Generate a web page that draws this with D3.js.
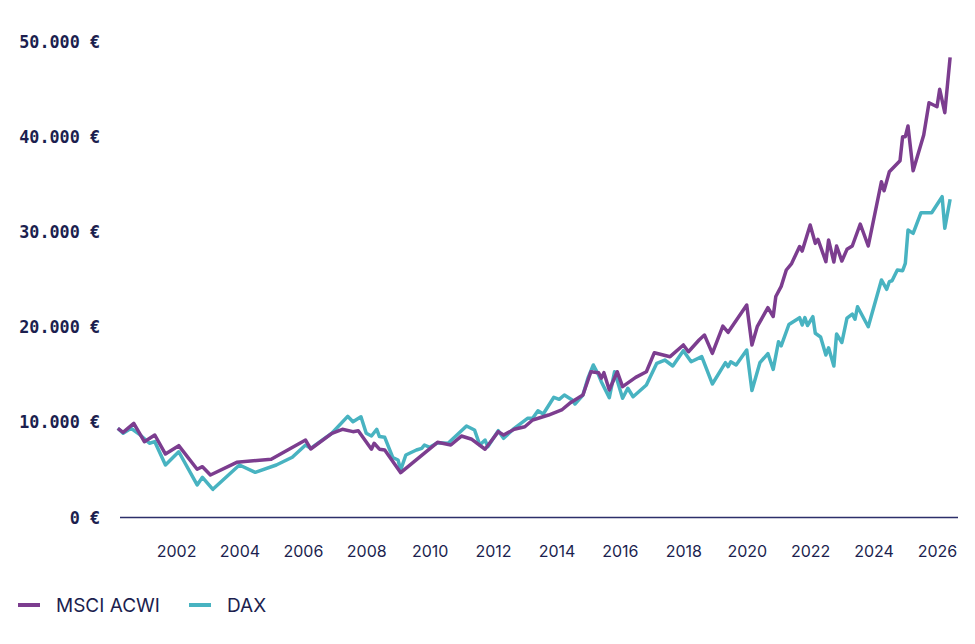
<!DOCTYPE html>
<html lang="de">
<head>
    <meta charset="UTF-8">
    <title>MSCI ACWI vs DAX</title>
    <style>
        body { margin: 0; background: #fff; }
    </style>
</head>
<body>
<script src="https://cdn.jsdelivr.net/npm/d3@7/dist/d3.min.js"></script>
<script>

    // MSCI ACWI (purple)
    var msciDates = ["2000-03","2000-05","2000-09","2001-01","2001-05","2001-09","2002-02","2002-09","2002-11","2003-02",
        "2003-12","2005-01","2006-02","2006-04","2006-12","2007-04","2007-08","2007-10","2008-03","2008-04",
        "2008-06","2008-08","2009-02","2010-04","2010-09","2011-01","2011-05","2011-10","2012-03","2012-05",
        "2012-09","2013-01","2013-04","2013-10","2014-03","2014-06","2014-11","2015-02","2015-05","2015-06",
        "2015-07","2015-09","2015-12","2016-02","2016-07","2016-11","2017-02","2017-08","2018-01","2018-03",
        "2018-07","2018-09","2018-12","2019-04","2019-06","2020-01","2020-03","2020-05","2020-09","2020-11",
        "2020-12","2021-02","2021-04","2021-06","2021-09","2021-10","2022-01","2022-03","2022-04","2022-07",
        "2022-08","2022-10","2022-11","2023-01","2023-03","2023-05","2023-08","2023-11","2024-04","2024-05",
        "2024-07","2024-11","2024-12","2025-01","2025-02","2025-04","2025-08","2025-10","2026-01","2026-02",
        "2026-04","2026-06"];
    var msciValues = [9370,8950,9900,7970,8670,6670,7550,5070,5340,4470,
        5800,6120,8140,7200,8850,9270,9020,9120,7180,7800,
        7180,7090,4710,7900,7620,8560,8220,7170,9020,8670,
        9270,9540,10250,10770,11300,12000,12870,15320,15220,14630,
        15220,13400,15320,13750,14730,15320,17320,16900,18130,17420,
        18650,19180,17250,20120,19460,22330,18130,20050,22050,21120,
        23220,24290,26010,26690,28480,28000,30740,28810,29230,26880,
        29160,26850,28530,26950,28180,28530,30840,28530,35290,34340,
        36340,37490,40020,40020,41140,36440,40190,43590,43170,45000,
        42540,48360];

    // DAX (teal)
    var daxDates = ["2000-03","2000-05","2000-08","2000-11","2001-03","2001-05","2001-09","2002-02","2002-09","2002-11",
        "2003-03","2004-01","2004-07","2005-03","2005-09","2006-02","2006-04","2006-12","2007-06","2007-08",
        "2007-11","2008-01","2008-03","2008-05","2008-06","2008-08","2008-11","2009-01","2009-02","2009-04",
        "2009-08","2009-10","2009-11","2010-01","2010-04","2010-08","2011-03","2011-06","2011-08","2011-10",
        "2011-11","2012-03","2012-05","2012-09","2013-02","2013-04","2013-06","2013-08","2013-12","2014-02",
        "2014-04","2014-07","2014-08","2014-11","2015-01","2015-03","2015-05","2015-06","2015-09","2015-11",
        "2016-02","2016-04","2016-06","2016-11","2017-03","2017-06","2017-09","2018-01","2018-04","2018-08",
        "2018-12","2019-05","2019-06","2019-07","2019-09","2020-01","2020-03","2020-06","2020-09","2020-11",
        "2021-01","2021-02","2021-05","2021-09","2021-10","2021-11","2021-12","2022-02","2022-03","2022-05",
        "2022-07","2022-08","2022-10","2022-11","2023-01","2023-03","2023-05","2023-06","2023-07","2023-11",
        "2024-04","2024-06","2024-07","2024-08","2024-10","2024-12","2025-01","2025-02","2025-04","2025-07",
        "2025-11","2026-03","2026-04","2026-06"];
    var daxValues = [9370,8850,9370,8770,7800,7970,5520,6910,3420,4220,
        2960,5520,4750,5520,6330,7620,7270,8850,10630,10070,
        10590,8850,8560,9270,8510,8430,6310,6040,4990,6570,
        7090,7270,7620,7380,7860,7800,9620,9200,7620,8140,
        7440,9120,8320,9370,10420,10420,11220,10880,12630,12420,
        12870,12350,11930,12870,14730,16030,14970,14270,12590,15320,
        12530,13580,12690,13920,16200,16550,15920,17530,16370,16900,
        14030,16270,15850,16370,16030,17600,13350,16270,17230,15570,
        18470,18040,20280,21000,20230,21000,20180,21100,19360,18970,
        17080,17830,15920,19280,18390,20960,21380,20830,22150,20050,
        24960,23980,24780,24880,26010,25930,26710,30210,29860,32030,
        32030,33710,30390,33440];

    var yTicks = [0, 10000, 20000, 30000, 40000, 50000];
    var xTickYears = [2002, 2004, 2006, 2008, 2010, 2012, 2014, 2016, 2018, 2020, 2022, 2024, 2026];

    var series = [
        { name: "MSCI ACWI", color: "#7c3d8f", dates: msciDates, values: msciValues },
        { name: "DAX", color: "#48b3c1", dates: daxDates, values: daxValues }
    ];

    var width = 975, height = 644;
    var navy = "#1c1f4f";
    var parse = d3.timeParse("%Y-%m");

    var svg = d3.select("body").append("svg")
        .attr("width", width)
        .attr("height", height);

    var x = d3.scaleTime()
        .domain([new Date(2000, 0, 1), new Date(2026, 0, 1)])
        .range([112.6, 937]);

    var y = d3.scaleLinear()
        .domain([0, 50000])
        .range([517.5, 41.7]);

    // y labels
    var fmt = function (v) {
        return d3.format(",")(v).replace(/,/g, ".") + " €";
    };
    svg.append("g")
        .selectAll("text")
        .data(yTicks)
        .enter()
        .append("text")
        .attr("x", 100)
        .attr("y", function (d) { return y(d); })
        .attr("dy", "0.36em")
        .attr("text-anchor", "end")
        .style("font-family", "'DejaVu Sans Mono', monospace")
        .style("font-weight", "bold")
        .style("font-size", "16.8px")
        .style("fill", navy)
        .text(fmt);

    // x axis
    var xAxis = d3.axisBottom(x)
        .tickValues(xTickYears.map(function (yr) { return new Date(yr, 0, 1); }))
        .tickFormat(d3.timeFormat("%Y"))
        .tickSize(0)
        .tickPadding(0);

    var gx = svg.append("g")
        .attr("transform", "translate(0," + y(0) + ")")
        .call(xAxis);
    gx.select(".domain").remove();
    gx.selectAll("text")
        .attr("y", 34)
        .attr("dy", "0.36em")
        .style("font-family", "Inter, sans-serif")
        .style("font-size", "16px")
        .style("fill", navy);

    svg.append("line")
        .attr("x1", 120)
        .attr("x2", 958)
        .attr("y1", y(0))
        .attr("y2", y(0))
        .style("stroke", "#2c2f6a")
        .style("stroke-width", 1.3);

    // lines
    var line = d3.line()
        .x(function (d) { return x(d[0]); })
        .y(function (d) { return y(d[1]); });

    svg.append("g")
        .selectAll("path")
        .data(series.slice().reverse())
        .enter()
        .append("path")
        .attr("d", function (s) {
            return line(s.dates.map(function (dt, i) { return [parse(dt), s.values[i]]; }));
        })
        .style("fill", "none")
        .style("stroke", function (s) { return s.color; })
        .style("stroke-width", 3.5)
        .style("stroke-linejoin", "round");

    // legend
    var legendX = [18, 189];
    var legend = svg.append("g")
        .selectAll("g")
        .data(series)
        .enter()
        .append("g")
        .attr("transform", function (d, i) { return "translate(" + legendX[i] + ",605)"; });

    legend.append("line")
        .attr("x1", 0)
        .attr("x2", 22)
        .style("stroke", function (d) { return d.color; })
        .style("stroke-width", 4);

    legend.append("text")
        .attr("x", 38)
        .attr("dy", "0.36em")
        .style("font-family", "Inter, sans-serif")
        .style("font-size", "19px")
        .style("fill", navy)
        .text(function (d) { return d.name; });

</script>
</body>
</html>
